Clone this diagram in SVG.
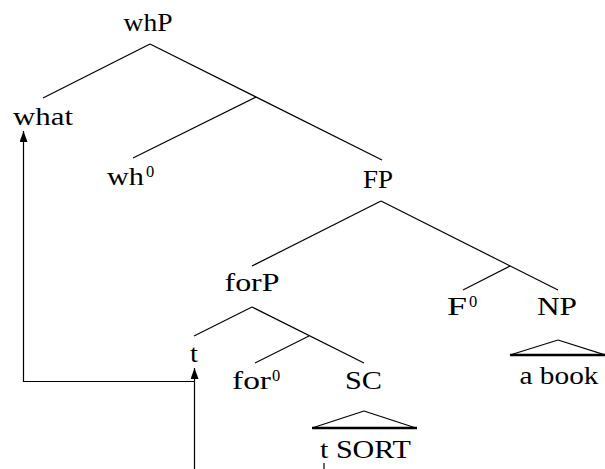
<svg xmlns="http://www.w3.org/2000/svg" width="605" height="469" viewBox="0 0 605 469">
<style>
text{font-family:'Liberation Serif','DejaVu Serif',serif;font-size:26px;fill:#000}
.sup{font-size:16.5px}
.e{stroke:#000;stroke-width:1.2;fill:none}
.base{stroke:#000;stroke-width:2.5;fill:none}
</style>
<defs>
<marker id="ah" viewBox="0 0 11 8" refX="11" refY="4" markerWidth="11" markerHeight="8" markerUnits="userSpaceOnUse" orient="auto">
<path d="M0,0 L11,4 L0,8 Z" fill="#000"/>
</marker>
</defs>
<rect width="605" height="469" fill="#fff"/>
<g id="connectors">
<path class="e" d="M150,44 L43,98"/>
<path class="e" d="M150,44 L382,160"/>
<path class="e" d="M256,97 L133,158"/>
<path class="e" d="M381,201 L252,266"/>
<path class="e" d="M381,201 L558,290"/>
<path class="e" d="M510,266 L463,290"/>
<path class="e" d="M252,307 L194,336"/>
<path class="e" d="M252,307 L364,363"/>
<path class="e" d="M309,336 L255,363"/>
<path class="e" d="M364,411 L312,428"/>
<path class="e" d="M364,411 L416,428"/>
<path class="base" d="M312,428 L417,428"/>
<path class="e" d="M558,340 L510,355"/>
<path class="e" d="M558,340 L605,355"/>
<path class="base" d="M510,355 L605,355"/>
<path class="e" d="M194.5,381.5 L23.5,381.5 L23.5,131" marker-end="url(#ah)"/>
<path class="e" d="M194.5,469 L194.5,368" marker-end="url(#ah)"/>
<path class="e" d="M324,463 L324,469"/>
</g>
<g id="whP"><text x="148" y="31" text-anchor="middle" textLength="49" lengthAdjust="spacingAndGlyphs">whP</text></g>
<g id="what"><text x="43" y="125" text-anchor="middle" textLength="60" lengthAdjust="spacingAndGlyphs">what</text></g>
<g id="wh0"><text y="185"><tspan x="107" textLength="37" lengthAdjust="spacingAndGlyphs">wh</tspan><tspan class="sup" x="146" y="177">0</tspan></text></g>
<g id="FP"><text x="378" y="188" text-anchor="middle" textLength="30" lengthAdjust="spacingAndGlyphs">FP</text></g>
<g id="forP"><text x="252" y="291" text-anchor="middle" textLength="55" lengthAdjust="spacingAndGlyphs">forP</text></g>
<g id="F0"><text y="315"><tspan x="447" textLength="20" lengthAdjust="spacingAndGlyphs">F</tspan><tspan class="sup" x="469" y="307">0</tspan></text></g>
<g id="NP"><text x="557" y="315" text-anchor="middle" textLength="40" lengthAdjust="spacingAndGlyphs">NP</text></g>
<g id="NPtri"><text x="559" y="384" text-anchor="middle" textLength="79" lengthAdjust="spacingAndGlyphs">a book</text></g>
<g id="t"><text x="194" y="362" text-anchor="middle" textLength="8" lengthAdjust="spacingAndGlyphs">t</text></g>
<g id="for0"><text y="389"><tspan x="232" textLength="39" lengthAdjust="spacingAndGlyphs">for</tspan><tspan class="sup" x="272" y="381">0</tspan></text></g>
<g id="SC"><text x="363.5" y="389" text-anchor="middle" textLength="37" lengthAdjust="spacingAndGlyphs">SC</text></g>
<g id="SCtri"><text x="365.5" y="458" text-anchor="middle" textLength="91" lengthAdjust="spacingAndGlyphs">t SORT</text></g>
</svg>
